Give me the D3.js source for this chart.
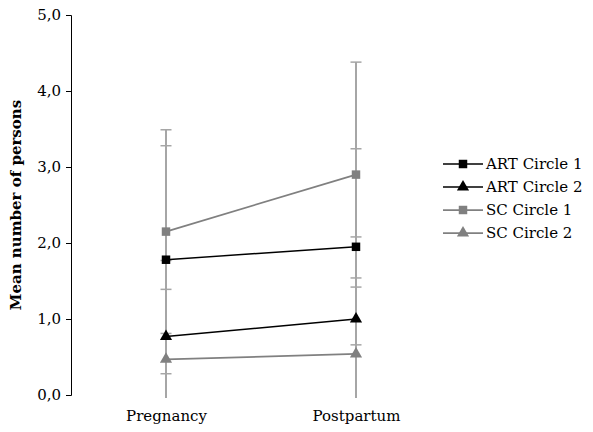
<!DOCTYPE html>
<html>
<head>
<meta charset="utf-8">
<script src="https://cdnjs.cloudflare.com/ajax/libs/d3/7.8.5/d3.min.js"></script>
<style>
  body { margin: 0; background: #fff; }
  text { font-family: "DejaVu Serif", "Liberation Serif", serif; }
</style>
</head>
<body>
<div id="chart"></div>
<script>
// categories and series values
var periods = ["Pregnancy", "Postpartum"];
var seriesNames = ["ART Circle 1", "ART Circle 2", "SC Circle 1", "SC Circle 2"];
var artCircle1 = [1.78, 1.95];
var artCircle2 = [0.77, 1.00];
var scCircle1 = [2.15, 2.90];
var scCircle2 = [0.47, 0.54];
// standard deviations (error bars)
var artCircle1Sd = [1.50, 1.29];
var artCircle2Sd = [1.00, 1.08];
var scCircle1Sd = [1.34, 1.48];
var scCircle2Sd = [0.92, 1.00];
var yTicks = [0, 1, 2, 3, 4, 5];

var series = [
  {name: seriesNames[0], values: artCircle1, sd: artCircle1Sd, color: "#000000", shape: "square"},
  {name: seriesNames[1], values: artCircle2, sd: artCircle2Sd, color: "#000000", shape: "triangle"},
  {name: seriesNames[2], values: scCircle1, sd: scCircle1Sd, color: "#808080", shape: "square"},
  {name: seriesNames[3], values: scCircle2, sd: scCircle2Sd, color: "#808080", shape: "triangle"}
];

var width = 593, height = 432;
var plot = {left: 71, right: 451, top: 15, bottom: 395};

var svg = d3.select("#chart")
    .append("svg")
    .attr("width", width)
    .attr("height", height);

var x = d3.scalePoint()
    .domain(periods)
    .range([plot.left, plot.right])
    .padding(0.5);

var y = d3.scaleLinear()
    .domain([0, 5])
    .range([plot.bottom, plot.top]);

var fmt = function(d) { return d3.format(".1f")(d).replace(".", ","); };

// y axis
var yAxis = svg.append("g")
    .attr("transform", "translate(" + plot.left + ",0)")
    .call(d3.axisLeft(y).tickValues(yTicks).tickSize(5).tickPadding(5).tickFormat(fmt));
yAxis.select(".domain").attr("stroke", "#000").attr("stroke-width", 1);
yAxis.selectAll(".tick line").attr("stroke", "#000");
yAxis.selectAll("text").attr("fill", "#000").style("font-size", "15px");

// x labels (no axis line)
var xAxis = svg.append("g")
    .attr("transform", "translate(0," + plot.bottom + ")")
    .call(d3.axisBottom(x).tickSize(0).tickPadding(15));
xAxis.select(".domain").remove();
xAxis.selectAll("text").attr("fill", "#000").style("font-size", "15px");

// y title
svg.append("text")
    .attr("transform", "translate(21," + ((plot.top + plot.bottom) / 2) + ") rotate(-90)")
    .attr("text-anchor", "middle")
    .style("font-size", "15px")
    .style("font-weight", "bold")
    .text("Mean number of persons");

// clip for error bars below zero
svg.append("clipPath").attr("id", "plotclip")
  .append("rect")
    .attr("x", plot.left).attr("y", 0)
    .attr("width", plot.right - plot.left).attr("height", plot.bottom + 3);

var errG = svg.append("g").attr("clip-path", "url(#plotclip)");
var capW = 5.5;
series.forEach(function(s) {
  s.values.forEach(function(v, i) {
    var cx = x(periods[i]);
    var hi = v + s.sd[i], lo = v - s.sd[i];
    errG.append("line")
      .attr("x1", cx).attr("x2", cx)
      .attr("y1", y(hi)).attr("y2", Math.min(y(lo), plot.bottom + 3))
      .attr("stroke", "#a6a6a6").attr("stroke-width", 2);
    [hi, lo].forEach(function(e) {
      if (e < 0) return;
      errG.append("line")
        .attr("x1", cx - capW).attr("x2", cx + capW)
        .attr("y1", y(e)).attr("y2", y(e))
        .attr("stroke", "#a6a6a6").attr("stroke-width", 1.5);
    });
  });
});

var line = d3.line()
    .x(function(d, i) { return x(periods[i]); })
    .y(function(d) { return y(d); });

var symSquare = d3.symbol().type(d3.symbolSquare).size(72);
var symTri = d3.symbol().type(d3.symbolTriangle).size(64);

series.forEach(function(s) {
  svg.append("path")
    .datum(s.values)
    .attr("d", line)
    .attr("fill", "none")
    .attr("stroke", s.color)
    .attr("stroke-width", s.color === "#000000" ? 1.5 : 1.75);
  svg.selectAll(null)
    .data(s.values)
    .join("path")
    .attr("transform", function(d, i) { return "translate(" + x(periods[i]) + "," + y(d) + ")"; })
    .attr("d", s.shape === "square" ? symSquare : symTri)
    .attr("fill", s.color);
});

// legend
var legend = svg.append("g").attr("transform", "translate(443,164)");
series.forEach(function(s, i) {
  var g = legend.append("g").attr("transform", "translate(0," + (i * 23) + ")");
  g.append("line")
    .attr("x1", 0).attr("x2", 40)
    .attr("stroke", s.color).attr("stroke-width", s.color === "#000000" ? 1.5 : 1.75);
  g.append("path")
    .attr("transform", "translate(20,0)")
    .attr("d", s.shape === "square" ? symSquare : symTri)
    .attr("fill", s.color);
  g.append("text")
    .attr("x", 43).attr("dy", "0.35em")
    .style("font-size", "15px")
    .text(s.name);
});
</script>
</body>
</html>
